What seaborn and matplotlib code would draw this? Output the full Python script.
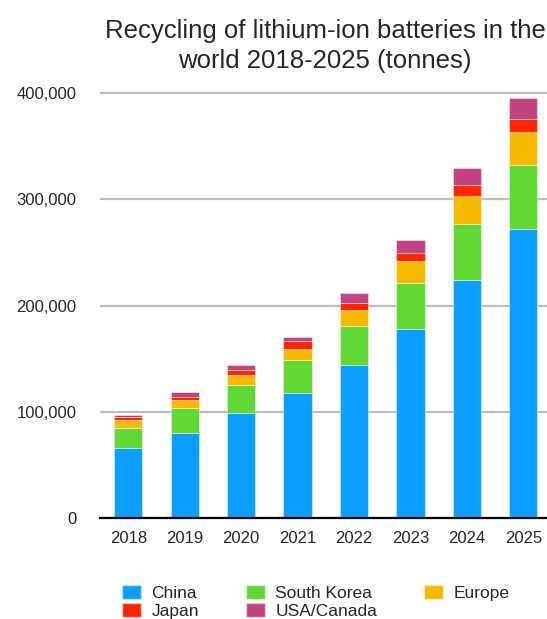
import numpy as np
import pandas as pd
import seaborn as sns
import matplotlib.pyplot as plt
from matplotlib.patches import Patch
from matplotlib.ticker import FuncFormatter

# Values (tonnes)
years = ['2018', '2019', '2020', '2021', '2022', '2023', '2024', '2025']
china = [66000, 80000, 99000, 118000, 144500, 178500, 224000, 272500]
south_korea = [19000, 24000, 26000, 31000, 36500, 42500, 53000, 60000]
europe = [7500, 7500, 10000, 10000, 15000, 21000, 26500, 31000]
japan = [2500, 2300, 4700, 7600, 6600, 7200, 9500, 12000]
usa_canada = [2200, 4700, 5000, 4400, 9700, 12500, 16500, 19500]

series = ['China', 'South Korea', 'Europe', 'Japan', 'USA/Canada']
colors = {'China': '#0D9FFF', 'South Korea': '#61D836', 'Europe': '#F8BA00',
          'Japan': '#FF2600', 'USA/Canada': '#C1437F'}

df = pd.DataFrame({'Year': years, 'China': china, 'South Korea': south_korea,
                   'Europe': europe, 'Japan': japan, 'USA/Canada': usa_canada})

sns.set_style('white')
plt.rcParams['font.family'] = ['Liberation Sans', 'DejaVu Sans']

fig = plt.figure(figsize=(5.47, 6.19), dpi=100)
ax = fig.add_axes([100 / 547, 0.1624, 1 - 100 / 547, 0.7047])

# stacked bars, one layer per region
bottom = np.zeros(len(years))
for name in series:
    sns.barplot(data=df, x='Year', y=name, color=colors[name], bottom=bottom,
                width=0.5, saturation=1, edgecolor=(1, 1, 1, 0.45), linewidth=0.7,
                ax=ax, zorder=3)
    bottom = bottom + df[name].values

ax.set_ylim(0, 410000)
ax.set_xlim(-0.5, 7.42)
ax.set_yticks([0, 100000, 200000, 300000, 400000])
ax.yaxis.set_major_formatter(FuncFormatter(lambda v, p: f'{int(v):,}'))
ax.grid(axis='y', color='#BDBDBD', linewidth=1.6, zorder=0)
ax.set_axisbelow(True)
for s in ['top', 'right', 'left']:
    ax.spines[s].set_visible(False)
ax.spines['bottom'].set_color('black')
ax.spines['bottom'].set_linewidth(1.6)
ax.spines['bottom'].set_zorder(5)
ax.tick_params(axis='y', length=0, pad=17, labelsize=12)
ax.tick_params(axis='x', length=0, pad=9, labelsize=12)
ax.set_xlabel('')
ax.set_ylabel('')

fig.text(325 / 547, 1 - 19 / 619,
         'Recycling of lithium-ion batteries in the\nworld 2018-2025 (tonnes)',
         ha='center', va='top', fontsize=18.5, linespacing=1.3)

order = ['China', 'Japan', 'South Korea', 'USA/Canada', 'Europe']
handles = [Patch(facecolor=colors[n], edgecolor=(1, 1, 1, 0.45), label=n) for n in order]
fig.legend(handles=handles, loc='upper left', ncol=3, frameon=False,
           bbox_to_anchor=(122 / 547, 1 - 585 / 619), fontsize=12.5,
           handlelength=1.1, handleheight=0.9, handletextpad=0.6,
           columnspacing=2.7, labelspacing=0.1, borderpad=0, borderaxespad=0)

plt.savefig('out.png', dpi=100)
